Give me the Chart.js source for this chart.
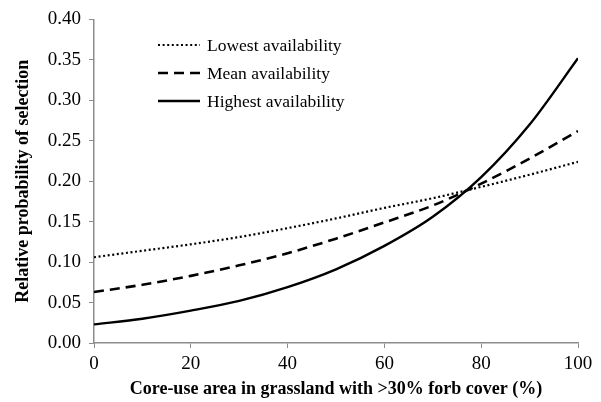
<!DOCTYPE html>
<html>
<head>
<meta charset="utf-8">
<script src="https://cdn.jsdelivr.net/npm/chart.js@4.4.0/dist/chart.umd.min.js"></script>
<style>
  html, body { margin: 0; padding: 0; background: #fff; }
  #wrap { width: 601px; height: 402px; }
</style>
</head>
<body>
<div id="wrap"><canvas id="grafico"></canvas></div>
<script>
// valores
const coreUse = [0, 10, 20, 30, 40, 50, 60, 70, 80, 90, 100];
const lowest  = [0.106, 0.114, 0.122, 0.131, 0.142, 0.154, 0.167, 0.179, 0.193, 0.208, 0.224];
const mean    = [0.063, 0.072, 0.083, 0.096, 0.111, 0.129, 0.149, 0.170, 0.197, 0.228, 0.262];
const highest = [0.023, 0.030, 0.040, 0.052, 0.069, 0.091, 0.120, 0.156, 0.205, 0.270, 0.352];
const xTicks = [0, 20, 40, 60, 80, 100];
const yTicks = [0, 0.05, 0.10, 0.15, 0.20, 0.25, 0.30, 0.35, 0.40];

const serif = "'Liberation Serif', 'Times New Roman', serif";
const axisGrey = '#8c8c8c';

function pontos(valores) {
    return coreUse.map((x, i) => ({ x: x, y: valores[i] }));
}

// legenda desenhada dentro da área do gráfico
const legendaInterna = {
    id: 'legendaInterna',
    afterDraw(chart) {
        const ctx = chart.ctx;
        const x0 = 158, x1 = 200, xt = 207;
        const linhas = [45, 73, 101];
        ctx.save();
        chart.data.datasets.forEach((ds, i) => {
            const y = linhas[i];
            ctx.beginPath();
            ctx.strokeStyle = ds.borderColor;
            ctx.lineWidth = ds.borderWidth;
            ctx.setLineDash(ds.borderDash || []);
            ctx.moveTo(x0, y);
            ctx.lineTo(x1, y);
            ctx.stroke();
            ctx.setLineDash([]);
            ctx.fillStyle = '#000';
            ctx.font = '17.5px ' + serif;
            ctx.textBaseline = 'middle';
            ctx.textAlign = 'left';
            ctx.fillText(ds.label, xt, y + 1);
        });
        ctx.restore();
    }
};

const ctx = document.getElementById('grafico').getContext('2d');
new Chart(ctx, {
    type: 'line',
    data: {
        datasets: [
            {
                label: 'Lowest availability',
                data: pontos(lowest),
                borderColor: '#000',
                borderWidth: 2.2,
                borderDash: [2, 2.6],
                pointRadius: 0,
                cubicInterpolationMode: 'monotone',
                fill: false
            },
            {
                label: 'Mean availability',
                data: pontos(mean),
                borderColor: '#000',
                borderWidth: 2.6,
                borderDash: [10, 6],
                pointRadius: 0,
                cubicInterpolationMode: 'monotone',
                fill: false
            },
            {
                label: 'Highest availability',
                data: pontos(highest),
                borderColor: '#000',
                borderWidth: 2.4,
                borderDash: [],
                pointRadius: 0,
                cubicInterpolationMode: 'monotone',
                fill: false
            }
        ]
    },
    options: {
        responsive: true,
        maintainAspectRatio: false,
        animation: false,
        layout: { padding: { top: 19, right: 23, left: 13, bottom: 2 } },
        plugins: {
            legend: { display: false },
            tooltip: { enabled: false }
        },
        scales: {
            x: {
                type: 'linear',
                min: 0,
                max: 100,
                afterBuildTicks: (scale) => { scale.ticks = xTicks.map(v => ({ value: v })); },
                afterFit: (scale) => { scale.height = 57; },
                grid: { display: true, drawOnChartArea: false, drawTicks: true, tickLength: 5, color: axisGrey },
                border: { color: axisGrey, width: 1.5 },
                ticks: { color: '#000', font: { family: serif, size: 19 }, padding: 5, maxRotation: 0 },
                title: {
                    display: true,
                    text: 'Core-use area in grassland with >30% forb cover (%)',
                    color: '#000',
                    font: { family: serif, size: 18, weight: 'bold' },
                    padding: { top: 0, bottom: 0 }
                }
            },
            y: {
                min: 0,
                max: 0.4,
                afterBuildTicks: (scale) => { scale.ticks = yTicks.map(v => ({ value: v })); },
                afterFit: (scale) => { scale.width = 81; },
                grid: { display: true, drawOnChartArea: false, drawTicks: true, tickLength: 5, color: axisGrey },
                border: { color: axisGrey, width: 1.5 },
                ticks: {
                    color: '#000',
                    font: { family: serif, size: 19 },
                    padding: 8,
                    callback: (v) => Number(v).toFixed(2)
                },
                title: {
                    display: true,
                    text: 'Relative probability of selection',
                    color: '#000',
                    font: { family: serif, size: 18, weight: 'bold' },
                    padding: { top: 0, bottom: 0 }
                }
            }
        }
    },
    plugins: [legendaInterna]
});
</script>
</body>
</html>
